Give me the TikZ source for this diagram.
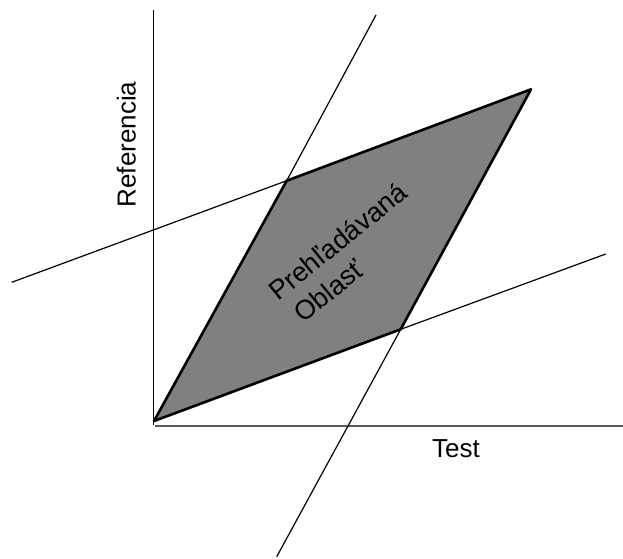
\documentclass[tikz,border=0pt]{standalone}
\usepackage{fontspec}
\setmainfont{Liberation Sans}
\begin{document}
\begin{tikzpicture}[x=1pt,y=-1pt,
  thinline/.style={line width=1.2pt,black},
  axisy/.style={line width=1.2pt,black},
  axisx/.style={line width=2pt,black!65},
  region/.style={draw=black,line width=2.6pt,line join=round},
  lbl/.style={font=\fontsize{26}{30}\selectfont,inner sep=0pt},
  arealbl/.style={font=\fontsize{27}{32}\selectfont,inner sep=0pt,rotate=39,anchor=base west}]
\useasboundingbox (0,0) rectangle (623,558);
% corners of the search region
\coordinate (O) at (154,421);
\coordinate (A) at (286.7,180.7);
\coordinate (B) at (531,89.3);
\coordinate (C) at (400.7,329.3);
% free ends of the bounding lines
\coordinate (L) at (11.7,282.3);
\coordinate (T) at (376,15);
\coordinate (R) at (605.7,254);
\coordinate (D) at (276.7,556.7);
% axes
\coordinate (Ytop) at (153.5,10);
\coordinate (Ybot) at (153.5,425);
\coordinate (Xl) at (155,426);
\coordinate (Xr) at (623,426);
\draw[axisx] (Xl) -- (Xr);
\draw[axisy] (Ytop) -- (Ybot);
% region fill, bounding lines, then the outline on top
\fill[black!50] (O) -- (A) -- (B) -- (C) -- cycle;
\draw[thinline] (L) -- (A);
\draw[thinline] (A) -- (T);
\draw[thinline] (C) -- (R);
\draw[thinline] (C) -- (D);
\draw[region] (O) -- (A) -- (B) -- (C) -- cycle;
% labels
\node[lbl,rotate=90,anchor=base] (ref) at (135.5,144.5) {Referencia};
\node[lbl,anchor=base] (test) at (456,457) {Test};
\node[arealbl] (area1) at (278,302) {Prehľadávaná};
\node[arealbl] (area2) at (303.5,324) {Oblasť};
\end{tikzpicture}
\end{document}
